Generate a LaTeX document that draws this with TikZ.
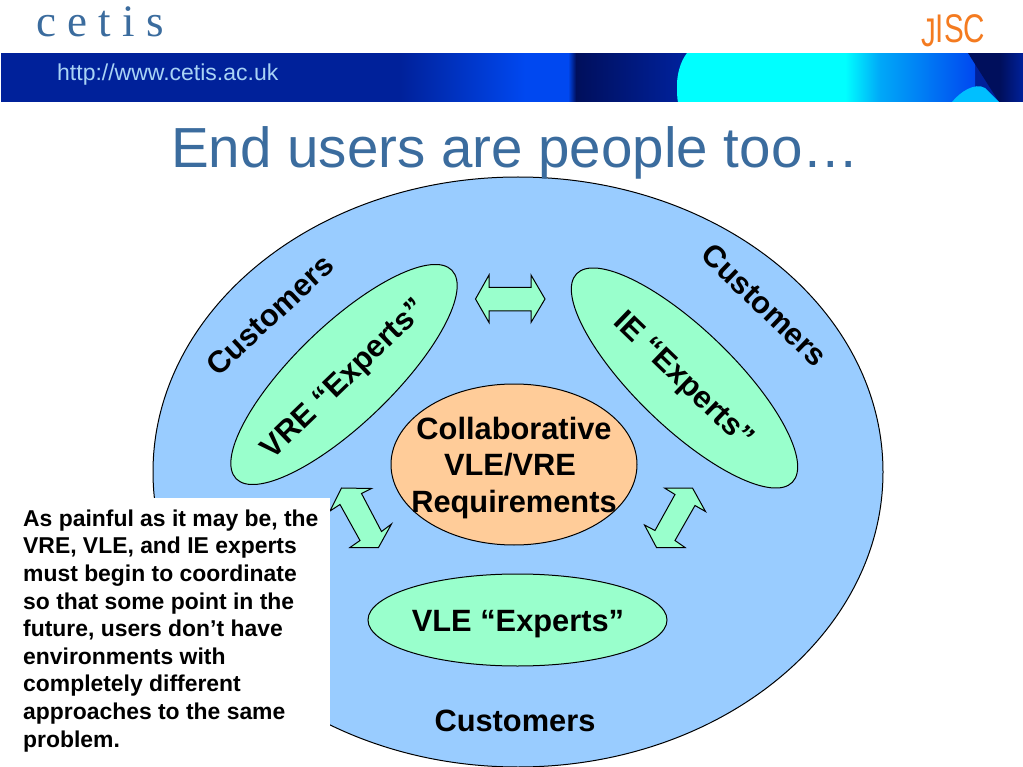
\documentclass[tikz,border=0pt]{standalone}
\usepackage{fontspec}
\setmainfont{Liberation Sans}
\newfontfamily\serifface{Liberation Serif}
\usetikzlibrary{shapes.geometric}
\definecolor{titleblue}{HTML}{3B6C9E}
\definecolor{skyfill}{HTML}{99CCFF}
\definecolor{mintfill}{HTML}{99FFCC}
\definecolor{peachfill}{HTML}{FFCC99}
\definecolor{bandnavy}{HTML}{00219A}
\definecolor{banddark}{HTML}{000F5C}
\definecolor{bandblue}{HTML}{0048F0}
\definecolor{bandcyan}{HTML}{00FFFF}
\definecolor{bandsky}{HTML}{00A8F8}
\definecolor{urlblue}{HTML}{A9D3F5}
\definecolor{jiscorange}{HTML}{F47B20}
\tikzset{
  x=1pt,y=-1pt,
  blob/.style={draw=black,line width=1pt,ellipse,inner sep=0pt},
  mintblob/.style={blob,fill=mintfill},
  blockarrow/.style={draw=black,line width=1pt,fill=mintfill,line join=miter},
  bigbold/.style={font=\fontsize{30.8}{36.7}\selectfont\bfseries,text=black,inner sep=0pt,align=center},
}
\begin{document}
\begin{tikzpicture}
\useasboundingbox (0,0) rectangle (1023,767);
\fill[white] (0,0) rectangle (1023,767);

% banner
\begin{scope}
\clip (1,53) rectangle (1023,102);
\fill[bandnavy] (1,53) rectangle (1023,102);
\shade[left color=bandnavy,right color=bandblue] (400,53) rectangle (525,102);
\fill[bandblue] (525,53) rectangle (568,102);
\shade[left color=bandblue,right color=banddark] (568,53) rectangle (576,102);
\shade[left color=banddark,right color=bandnavy] (576,53) rectangle (680,102);
\shade[left color=bandsky,right color=bandblue] (880,53) rectangle (975,102);
\shade[left color=bandcyan,right color=bandsky] (845,53) rectangle (880,102);
\fill[bandcyan] (687,53) .. controls (680,62) and (677,75) .. (677,85) .. controls (677,92) and (677,98) .. (678,102) -- (846,102) -- (846,53) -- cycle;
\fill[banddark] (968,53) -- (1023,53) -- (1023,102) -- (999,102) -- cycle;
\shade[left color=banddark,right color=bandnavy] (1000,53) rectangle (1023,102);
\fill[bandcyan!75!blue] (952,102) .. controls (960,92) and (975,82) .. (985,88) -- (999,102) -- cycle;
\end{scope}
\fill[white] (0,44) rectangle (1023,53);
\fill[white] (0,102) rectangle (1023,110);

\node[anchor=base west,inner sep=0pt,text=titleblue,font=\serifface\fontsize{45}{45}\selectfont] (logo) at (36,37) {c e t i s};
\node[anchor=base west,inner sep=0pt,text=jiscorange,font=\fontsize{40}{40}\selectfont,xscale=0.74] (jisc) at (921,43) {\raisebox{-4pt}{J}ISC};
\node[anchor=base west,inner sep=0pt,text=urlblue,font=\fontsize{23}{24}\selectfont] (url) at (57,81) {http://www.cetis.ac.uk};

% main shapes
\node[blob,fill=skyfill,minimum width=730pt,minimum height=590pt] (outer) at (518,472) {};
\node[mintblob,minimum width=300pt,minimum height=98pt,rotate=44] (vre) at (344,374.5) {};
\node[mintblob,minimum width=300pt,minimum height=98pt,rotate=-44] (ie) at (684.5,378) {};
\node[blob,fill=peachfill,minimum width=246pt,minimum height=161pt] (core) at (514,464.5) {};
\node[mintblob,minimum width=299pt,minimum height=92pt] (vle) at (517.5,620) {};

\node[anchor=base west,inner sep=0pt,text=titleblue,font=\fontsize{56.5}{60}\selectfont] (title) at (171,168) {End users are people too…};

% double block arrows
\draw[blockarrow] (475.5,299) -- (489,275) -- (489,287.5) -- (531,287.5) -- (531,275) -- (545,299) -- (531,322.5) -- (531,311) -- (489,311) -- (489,322.5) -- cycle;
\draw[blockarrow] (341.5,488) -- (371.5,488.5) -- (361.5,493.5) -- (381.5,531.5) -- (391.5,524) -- (378.5,547.5) -- (350,547.5) -- (360,540.5) -- (340,504.5) -- (330,511) -- cycle;
\draw[blockarrow] (692.5,488) -- (705.5,511.5) -- (695,505.5) -- (675,540.5) -- (685,547.5) -- (656.5,547.5) -- (644.5,525) -- (655,530.5) -- (675,494.5) -- (664.5,488) -- cycle;

% labels
\node[bigbold] (coretext) at (514,468) {Collaborative\\VLE/VRE\kern8pt\\Requirements};
\node[bigbold] (vletext) at (518,624) {VLE “Experts”};
\node[bigbold,rotate=44] (vretext) at (345,380) {VRE “Experts”};
\node[bigbold,rotate=-44] (ietext) at (682.5,381) {IE “Experts”};
\node[bigbold,rotate=43] (custl) at (270,315) {Customers};
\node[bigbold,rotate=-44] (custr) at (764.5,305) {Customers};
\node[bigbold] (custb) at (515,721) {Customers};

% note
\node[fill=white,anchor=north west,inner sep=0pt,minimum width=330pt,minimum height=269pt] (notebox) at (0,498) {};
\node[anchor=north west,inner sep=0pt,align=left,font=\fontsize{22.9}{27.6}\selectfont\bfseries] (note) at (23,509.5) {As painful as it may be, the\\VRE, VLE, and IE experts\\must begin to coordinate\\so that some point in the\\future, users don’t have\\environments with\\completely different\\approaches to the same\\problem.};
\end{tikzpicture}
\end{document}
